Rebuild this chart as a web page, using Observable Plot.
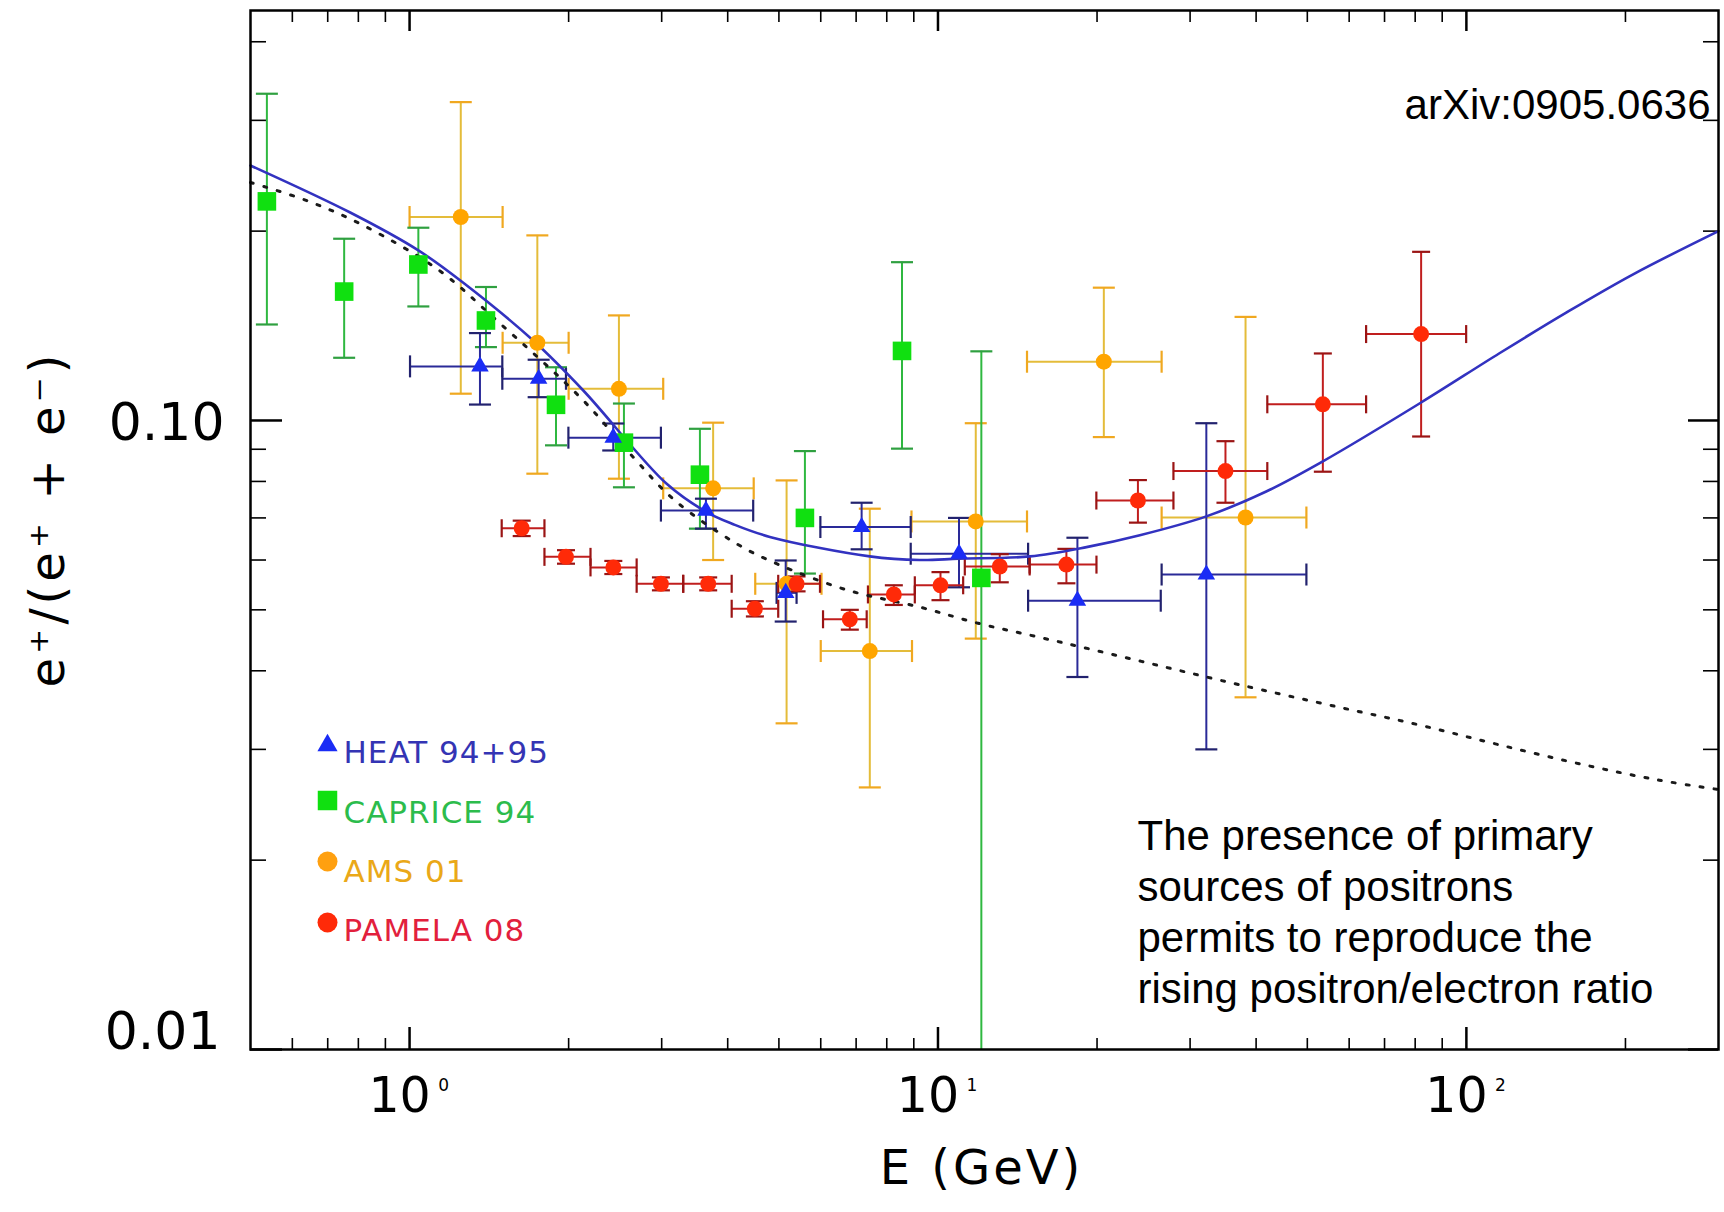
<!DOCTYPE html>
<html><head><meta charset="utf-8">
<script src="https://cdn.jsdelivr.net/npm/d3@7"></script>
<script src="https://cdn.jsdelivr.net/npm/@observablehq/plot@0.6"></script>
<style>
html,body{margin:0;padding:0;background:#fff;}
#chart svg{display:block;}
.ylab text{letter-spacing:4px;}
.xlab text{letter-spacing:3px;}
.leg text{letter-spacing:1px;}
</style></head><body><div id="chart"></div>
<script>
// ---------- data ----------
// HEAT 94+95
const heatE   = [1.359, 1.755, 2.429, 3.638, 5.15, 7.17, 10.96, 18.36, 32.2];
const heatElo = [1.002, 1.498, 1.998, 2.99, 4.95, 5.99, 8.88, 14.81, 26.5];
const heatEhi = [1.498, 1.977, 2.99, 4.47, 5.4, 8.88, 14.81, 26.4, 49.8];
const heatY   = [0.1219, 0.1165, 0.0939, 0.0719, 0.0532, 0.0677, 0.0614, 0.0517, 0.0569];
const heatYlo = [0.106, 0.1089, 0.0896, 0.0673, 0.0479, 0.0624, 0.0543, 0.0391, 0.0300];
const heatYhi = [0.1377, 0.1249, 0.0989, 0.0751, 0.0599, 0.074, 0.070, 0.0651, 0.099];
// CAPRICE 94
const capE   = [0.537, 0.752, 1.039, 1.395, 1.893, 2.545, 3.544, 5.6, 8.55, 12.08];
const capY   = [0.223, 0.1603, 0.177, 0.1442, 0.1059, 0.0922, 0.082, 0.070, 0.129, 0.0562];
const capYlo = [0.1421, 0.1258, 0.1518, 0.1308, 0.0913, 0.0783, 0.0673, 0.0571, 0.0902, 0.005];
const capYhi = [0.3307, 0.1945, 0.2025, 0.163, 0.1215, 0.1064, 0.097, 0.0894, 0.1785, 0.1288];
// AMS 01
const amsE   = [1.25, 1.745, 2.49, 3.754, 5.17, 7.43, 11.79, 20.6, 38.2];
const amsElo = [1.0, 1.5, 2.0, 3.02, 4.51, 6.0, 8.91, 14.74, 26.5];
const amsEhi = [1.5, 2.0, 3.02, 4.48, 6.02, 8.93, 14.74, 26.5, 49.8];
const amsY   = [0.2106, 0.1329, 0.1123, 0.078, 0.055, 0.043, 0.0691, 0.124, 0.0701];
const amsYlo = [0.1103, 0.0823, 0.0808, 0.060, 0.033, 0.0261, 0.045, 0.0941, 0.0363];
const amsYhi = [0.3207, 0.1969, 0.1469, 0.0992, 0.0803, 0.0724, 0.099, 0.1626, 0.1461];
// PAMELA 08
const pamE   = [1.63, 1.977, 2.43, 2.99, 3.674, 4.503, 5.40, 6.81, 8.25, 10.11, 13.09, 17.5, 23.9, 35.0, 53.5, 82.1];
const pamElo = [1.494, 1.80, 2.2, 2.69, 3.295, 4.07, 4.985, 6.06, 7.37, 9.04, 11.24, 14.91, 19.94, 27.9, 42.0, 64.6];
const pamEhi = [1.80, 2.2, 2.69, 3.295, 4.07, 4.985, 5.98, 7.33, 9.04, 11.16, 14.91, 19.95, 27.9, 42.0, 64.6, 99.9];
const pamY   = [0.0674, 0.0607, 0.0584, 0.055, 0.055, 0.0502, 0.055, 0.0483, 0.0529, 0.0547, 0.0586, 0.059, 0.0746, 0.0831, 0.1061, 0.1372];
const pamYlo = [0.0655, 0.0592, 0.057, 0.0537, 0.0537, 0.0488, 0.0535, 0.0465, 0.0509, 0.0518, 0.0553, 0.0551, 0.0688, 0.074, 0.0829, 0.0943];
const pamYhi = [0.0693, 0.0622, 0.0598, 0.0563, 0.0563, 0.0516, 0.0565, 0.050, 0.0547, 0.0574, 0.0613, 0.0625, 0.0804, 0.0927, 0.1278, 0.1854];
// model with primary sources (solid blue)
const modelE = [0.5, 0.772, 1.039, 1.262, 1.714, 2.132, 3.066, 3.648, 4.098, 4.807, 7.43, 9.24, 10.96, 14.92, 19.1, 24.1, 32.2, 41.8, 53.5, 82.1, 115.5, 154.5, 206.4, 300];
const modelY = [0.2543, 0.2141, 0.1864, 0.1657, 0.1340, 0.1116, 0.0793, 0.0715, 0.0684, 0.0653, 0.0608, 0.0600, 0.0603, 0.0608, 0.0629, 0.0657, 0.0704, 0.0771, 0.0861, 0.1068, 0.1279, 0.1484, 0.1706, 0.200];
// secondary-only model (dotted)
const secE = [0.5, 0.644, 0.818, 1.142, 1.462, 2.132, 2.651, 3.178, 4.157, 4.95, 6.71, 9.24, 11.91, 15.24, 19.65, 27.05, 37.23, 57.5, 81.5, 115.5, 168.5, 231.8, 300];
const secY = [0.239, 0.2231, 0.2042, 0.1728, 0.1442, 0.1076, 0.0874, 0.0746, 0.0637, 0.0592, 0.0538, 0.0505, 0.0476, 0.0454, 0.0432, 0.0405, 0.038, 0.035, 0.0328, 0.0305, 0.0283, 0.0268, 0.0259];
// axes
const xMajor = [1, 10, 100];
const xMinor = [0.6,0.7,0.8,0.9,2,3,4,5,6,7,8,9,20,30,40,50,60,70,80,90,200];
const yMajor = [0.01, 0.1];
const yMinor = [0.02,0.03,0.04,0.05,0.06,0.07,0.08,0.09,0.2,0.3,0.4];
const yTickText = ["0.01", "0.10"];
// legend
const legendNames   = ["HEAT 94+95", "CAPRICE 94", "AMS 01", "PAMELA 08"];
const legendSymbols = ["triangle", "square", "circle", "circle"];
const legendColors  = ["#1a2cf5", "#10e010", "#ffa010", "#ff2a08"];
const legendText    = ["#3434b4", "#2cbc4c", "#eaa818", "#e2203c"];
const noteText = "The presence of primary\nsources of positrons\npermits to reproduce the\nrising positron/electron ratio";
const refText = "arXiv:0905.0636";

// ---------- layout ----------
const W = 1724, H = 1212, ML = 250, MR = 6, MT = 10, MB = 163;
const innerW = W - ML - MR, innerH = H - MT - MB;

const rows = (E, Y, Ylo, Yhi, Elo, Ehi) => E.map((e, i) => ({
  e, y: Y[i], ylo: Ylo[i], yhi: Yhi[i], elo: Elo ? Elo[i] : null, ehi: Ehi ? Ehi[i] : null }));
const heat = rows(heatE, heatY, heatYlo, heatYhi, heatElo, heatEhi);
const cap  = rows(capE, capY, capYlo, capYhi);
const ams  = rows(amsE, amsY, amsYlo, amsYhi, amsElo, amsEhi);
const pam  = rows(pamE, pamY, pamYlo, pamYhi, pamElo, pamEhi);
const model = modelE.map((e, i) => ({e, y: modelY[i]}));
const sec = secE.map((e, i) => ({e, y: secY[i]}));

const hCap = {draw(c, s) { const r = Math.sqrt(s / Math.PI); c.moveTo(-r, 0); c.lineTo(r, 0); }};
const vCap = {draw(c, s) { const r = Math.sqrt(s / Math.PI); c.moveTo(0, -r); c.lineTo(0, r); }};

function bars(data, color, capColor, capR, hasX) {
  const o = {stroke: color, strokeWidth: 2, clip: true};
  const oc = {stroke: capColor, strokeWidth: 2.2, fill: "none", r: capR, clip: true};
  const m = [
    Plot.ruleX(data, {x: "e", y1: "ylo", y2: "yhi", ...o}),
    Plot.dot(data, {x: "e", y: "yhi", symbol: hCap, ...oc}),
    Plot.dot(data, {x: "e", y: "ylo", symbol: hCap, ...oc})
  ];
  if (hasX) m.push(
    Plot.ruleY(data, {y: "y", x1: "elo", x2: "ehi", ...o}),
    Plot.dot(data, {x: "elo", y: "y", symbol: vCap, ...oc}),
    Plot.dot(data, {x: "ehi", y: "y", symbol: vCap, ...oc})
  );
  return m;
}

const legendRowsText = [730, 790, 849, 908];
const legendRowsDot  = [735, 790, 851, 912];
const legendR = [7.5, 11, 10, 10];
const legendMarks = [];
legendNames.forEach((name, i) => {
  legendMarks.push(Plot.dot([name], {frameAnchor: "top-left", dx: 77, dy: legendRowsDot[i],
    symbol: legendSymbols[i], r: legendR[i], fill: legendColors[i], stroke: "none"}));
  legendMarks.push(Plot.text([name], {frameAnchor: "top-left", dx: 93, dy: legendRowsText[i],
    text: d => d, textAnchor: "start", fill: legendText[i], fontSize: 31, className: "leg"}));
});

const chart = Plot.plot({
  width: W, height: H,
  marginLeft: ML, marginRight: MR, marginTop: MT, marginBottom: MB,
  x: {type: "log", domain: [0.5, 300], axis: null},
  y: {type: "log", domain: [0.01, 0.4485], axis: null},
  style: {background: "#fff", fontFamily: "'DejaVu Sans', sans-serif", color: "#000"},
  marks: [
    // ticks (inward, mirrored)
    Plot.tickX(xMajor, {x: d => d, insetTop: innerH - 22, stroke: "#000", strokeWidth: 2.5}),
    Plot.tickX(xMinor, {x: d => d, insetTop: innerH - 11, stroke: "#000", strokeWidth: 1.6}),
    Plot.tickX(xMajor, {x: d => d, insetBottom: innerH - 21, stroke: "#000", strokeWidth: 2.5}),
    Plot.tickX(xMinor, {x: d => d, insetBottom: innerH - 12, stroke: "#000", strokeWidth: 1.6}),
    Plot.tickY(yMajor, {y: d => d, insetRight: innerW - 32, stroke: "#000", strokeWidth: 2.5}),
    Plot.tickY(yMinor, {y: d => d, insetRight: innerW - 16, stroke: "#000", strokeWidth: 1.6}),
    Plot.tickY(yMajor, {y: d => d, insetLeft: innerW - 30, stroke: "#000", strokeWidth: 2.5}),
    Plot.tickY(yMinor, {y: d => d, insetLeft: innerW - 15, stroke: "#000", strokeWidth: 1.6}),
    // error bars
    ...bars(ams, "#e4bc3a", "#f0a820", 11, true),
    ...bars(cap, "#2fb840", "#2fa040", 11, false),
    ...bars(heat, "#2a2a98", "#22226e", 11, true),
    ...bars(pam, "#c01e1e", "#9a1414", 9, true),
    // model curves
    Plot.line(sec, {x: "e", y: "y", stroke: "#1a1a1a", strokeWidth: 3, strokeDasharray: "3,11", curve: "catmull-rom"}),
    Plot.line(model, {x: "e", y: "y", stroke: "#3232c0", strokeWidth: 2.6, curve: "catmull-rom"}),
    // markers
    Plot.dot(cap, {x: "e", y: "y", symbol: "square", r: 10.5, fill: "#10e010", stroke: "none"}),
    Plot.dot(ams, {x: "e", y: "y", symbol: "circle", r: 8, fill: "#ffa500", stroke: "none"}),
    Plot.dot(heat, {x: "e", y: "y", symbol: "triangle", r: 6.5, fill: "#1a2cf5", stroke: "none"}),
    Plot.dot(pam, {x: "e", y: "y", symbol: "circle", r: 8, fill: "#ff2a08", stroke: "none"}),
    // frame
    Plot.frame({stroke: "#000", strokeWidth: 2.5}),
    // tick labels
    Plot.text(yMajor.filter(v => v === 0.1), {y: d => d, text: d => yTickText[yMajor.indexOf(d)],
      frameAnchor: "left", textAnchor: "end", dx: -26, dy: 3, fontSize: 52}),
    Plot.text(yMajor.filter(v => v === 0.01), {y: d => d, text: d => yTickText[yMajor.indexOf(d)],
      frameAnchor: "left", textAnchor: "end", dx: -30, dy: -17, fontSize: 52}),
    Plot.text(xMajor, {x: d => d, text: () => "10", frameAnchor: "bottom", textAnchor: "middle", dx: -10, dy: 62, fontSize: 49}),
    Plot.text(xMajor, {x: d => d, text: d => String(Math.round(Math.log10(d))), frameAnchor: "bottom",
      textAnchor: "middle", dx: 34, dy: 41, fontSize: 17}),
    // axis titles
    Plot.text(["E (GeV)"], {frameAnchor: "bottom", textAnchor: "middle", dx: -3, dy: 134, fontSize: 48, className: "xlab"}),
    Plot.text(["e\u207A/(e\u207A + e\u207B)"], {frameAnchor: "left", textAnchor: "middle", rotate: -90, dx: -202, dy: -11,
      fontSize: 48, className: "ylab"}),
    // annotations
    Plot.text([refText], {frameAnchor: "top-right", dx: -8, dy: 108, lineAnchor: "bottom",
      textAnchor: "end", fontSize: 42, fontFamily: "'Liberation Sans', Arial, sans-serif"}),
    Plot.text([noteText], {frameAnchor: "bottom-left", dx: 887, dy: -47, lineAnchor: "bottom",
      textAnchor: "start", lineHeight: 1.214, fontSize: 42, fontFamily: "'Liberation Sans', Arial, sans-serif"}),
    // legend
    ...legendMarks
  ]
});
document.getElementById("chart").appendChild(chart);
</script></body></html>
